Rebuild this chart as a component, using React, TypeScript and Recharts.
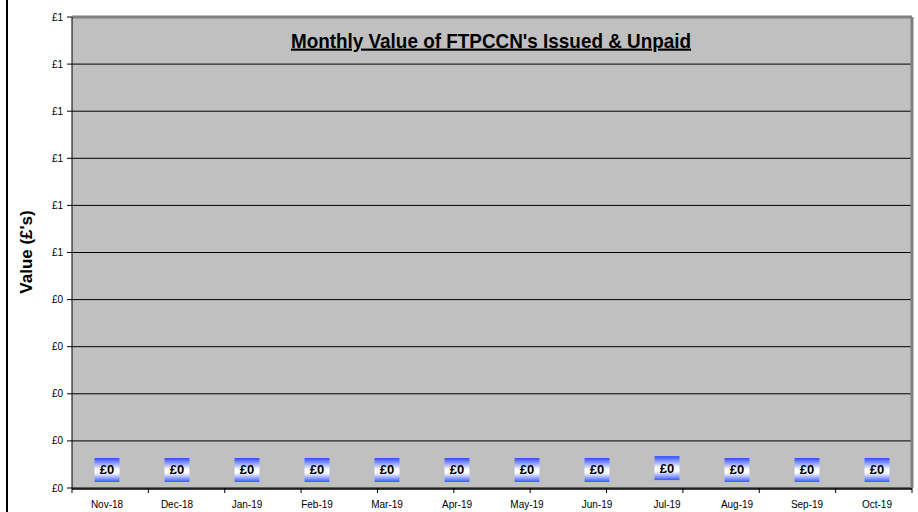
import React from 'react';
import { ComposedChart, Bar, Line, XAxis, YAxis, CartesianGrid, LabelList, ReferenceLine } from 'recharts';

const months = ['Nov-18', 'Dec-18', 'Jan-19', 'Feb-19', 'Mar-19', 'Apr-19', 'May-19', 'Jun-19', 'Jul-19', 'Aug-19', 'Sep-19', 'Oct-19'];
const values = [0, 0, 0, 0, 0, 0, 0, 0, 0.004, 0, 0, 0];
const yTicks = [0, 0.1, 0.2, 0.3, 0.4, 0.5, 0.6, 0.7, 0.8, 0.9, 1];
const boundaryTicks = [0, 1, 2, 3, 4, 5, 6, 7, 8, 9, 10, 11, 12];

const data = months.map((m, i) => ({ month: m, value: values[i] }));

const fmt = (v: number) => '£' + Math.round(v);
const FONT = 'Liberation Sans, Arial, sans-serif';
const NUM = 0;
const CAT = 1;

const ValueLabel = (props: any) => {
  const { x, y, value } = props;
  const bw = 25;
  const bh = 24;
  const top = y - 6 - bh;
  return (
    <g>
      <rect x={x - bw / 2} y={top} width={bw} height={bh} fill="url(#lblGrad)" />
      <text x={x} y={top + bh / 2 + 1} textAnchor="middle" dominantBaseline="middle" fontFamily={FONT} fontWeight="bold" fontSize={13} fill="#000">
        {fmt(value)}
      </text>
    </g>
  );
};

export default function App() {
  return (
    <div style={{ position: 'absolute', left: 0, top: 0, width: 918, height: 512, background: '#fff', overflow: 'hidden' }}>
      <div style={{ position: 'absolute', left: 6, top: 0, width: 2, height: 512, background: '#000' }} />
      <ComposedChart width={918} height={512} data={data} margin={{ top: 17, right: 6, bottom: 0, left: 0 }}>
        <defs>
          <linearGradient id="lblGrad" x1="0" y1="0" x2="0" y2="1">
            <stop offset="0%" stopColor="#2f4cff" />
            <stop offset="48%" stopColor="#ffffff" />
            <stop offset="62%" stopColor="#ffffff" />
            <stop offset="100%" stopColor="#3a58ff" />
          </linearGradient>
        </defs>
        <CartesianGrid fill="#c0c0c0" stroke="#000" vertical={false} strokeOpacity={1} xAxisId={CAT} />
        <XAxis xAxisId={NUM} type="number" domain={[0, 12]} ticks={boundaryTicks} tickFormatter={() => ''} tickSize={5} axisLine={false} tickLine={{ stroke: '#000' }} height={1} />
        <XAxis xAxisId={CAT} dataKey="month" interval={0} tickLine={false} axisLine={{ stroke: '#000', strokeWidth: 1.5 }} tickMargin={6} height={23}
          tick={{ fontSize: 10, fill: '#000', fontFamily: FONT }} />
        <YAxis domain={[0, 1]} ticks={yTicks} tickFormatter={fmt} interval={0} width={72} tickSize={5} tickMargin={4}
          axisLine={{ stroke: '#000' }} tickLine={{ stroke: '#000' }}
          tick={{ fontSize: 10, fill: '#000', fontFamily: FONT }} />
        <ReferenceLine y={1} xAxisId={CAT} stroke="#808080" strokeWidth={3} />
        <ReferenceLine x={months[months.length - 1]} xAxisId={CAT} position="end" stroke="#808080" strokeWidth={3} />
        <Bar dataKey="value" xAxisId={CAT} fill="transparent" isAnimationActive={false} />
        <Line dataKey="value" xAxisId={CAT} stroke="none" dot={false} activeDot={false} isAnimationActive={false}>
          <LabelList dataKey="value" content={ValueLabel} />
        </Line>
        <text x={28} y={252} transform="rotate(-90 28 252)" textAnchor="middle" dominantBaseline="middle" fontFamily={FONT} fontWeight="bold" fontSize={17} fill="#000">
          Value (£'s)
        </text>
        <g transform="translate(491 42) scale(0.9 1)">
          <text x={0} y={0} textAnchor="middle" dominantBaseline="middle" fontFamily={FONT} fontWeight="bold" fontSize={21} textDecoration="underline" fill="#000">
            Monthly Value of FTPCCN's Issued &amp; Unpaid
          </text>
        </g>
      </ComposedChart>
    </div>
  );
}
